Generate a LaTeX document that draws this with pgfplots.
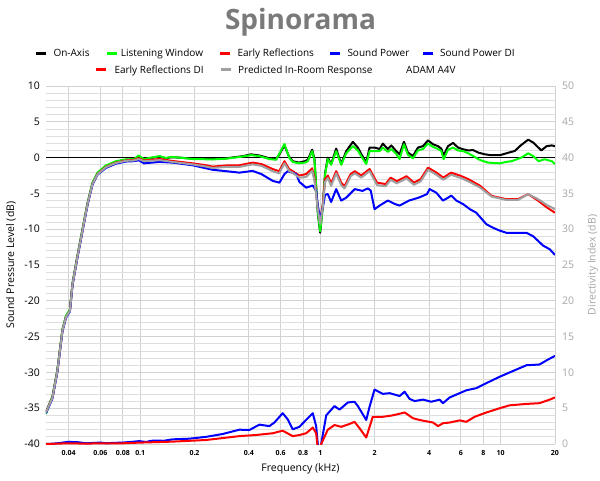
\documentclass[border=0pt]{standalone}
\usepackage{pgfplots}
\pgfplotsset{compat=1.18}
\usepackage{fontspec}
\setmainfont{Open Sans}

\definecolor{lwgreen}{HTML}{00FF00}
\definecolor{gridc}{HTML}{D2D2D2}
\definecolor{gridm}{HTML}{DEDEDE}
\definecolor{digray}{HTML}{A6A6A6}
\definecolor{pirgray}{HTML}{A0A0A0}
\definecolor{titlegray}{HTML}{7A7A7A}

\begin{document}
\begin{tikzpicture}
\useasboundingbox (0,0) rectangle (600pt,480pt);

\begin{axis}[
  at={(46pt,36pt)}, anchor=south west, scale only axis,
  width=509pt, height=358pt,
  xmode=log, xmin=0.03, xmax=20,
  ymin=-40, ymax=10,
  axis line style={draw=none},
  major tick length=0pt, minor tick length=0pt,
  /pgf/number format/assume math mode=true,
  every axis plot/.append style={line width=2pt, line join=round, no markers},
  xtick={0.04,0.06,0.08,0.1,0.2,0.4,0.6,0.8,1,2,4,6,8,10,20},
  xticklabels={0.04,0.06,0.08,0.1,0.2,0.4,0.6,0.8,1,2,4,6,8,10,20},
  xticklabel style={font=\fontsize{7}{8}\selectfont\bfseries, anchor=center, yshift=-9pt},
  ytick={-40,-35,...,10},
  yticklabel style={font=\fontsize{10.5}{12}\selectfont, anchor=east, inner sep=0pt, xshift=-6pt},
  minor y tick num=4,
  xmajorgrids, ymajorgrids, yminorgrids,
  major grid style={draw=gridc, line width=0.9pt},
  minor grid style={draw=gridm, line width=0.7pt},
  xlabel={Frequency (kHz)},
  xlabel style={font=\fontsize{10.5}{12}\selectfont, at={(axis description cs:0.5,-0.07)}, anchor=center},
  ylabel={Sound Pressure Level (dB)},
  ylabel style={font=\fontsize{10.5}{12}\selectfont, at={(axis description cs:-0.0688,0.5)}, anchor=center},
]
% 0 dB reference line
\addplot[black, line width=0.9pt] coordinates {(0.03,0) (20,0)};
% On-Axis
\addplot[black] coordinates {
(0.030,-35.5) (0.0326,-33.4) (0.0347,-29.7) (0.037,-24.1) (0.0387,-22.2) (0.0407,-21.3)
(0.0421,-17.6) (0.0448,-13.8) (0.0478,-10.1) (0.051,-6.4) (0.0543,-3.6) (0.0579,-2.2)
(0.0645,-1.2) (0.0733,-0.6) (0.0834,-0.3) (0.0926,-0.25) (0.098,0.1) (0.105,-0.3)
(0.112,-0.1) (0.128,0.15) (0.139,-0.1) (0.148,0.05) (0.165,0.0) (0.195,-0.15)
(0.252,-0.2) (0.300,-0.1) (0.370,0.2) (0.412,0.45) (0.458,0.3) (0.521,-0.1)
(0.567,-0.25) (0.59,0.4) (0.631,1.7) (0.67,0.1) (0.701,-0.5) (0.76,-0.7)
(0.82,-0.5) (0.85,-0.3) (0.899,1.1) (0.926,-0.2) (0.966,-7.7) (0.996,-10.5)
(1.03,-6.7) (1.06,-2.2) (1.098,0) (1.146,-0.9) (1.222,1.25) (1.303,-0.9)
(1.389,0.9) (1.512,2.2) (1.612,1.4) (1.683,0.5) (1.794,-0.7) (1.872,1.4)
(1.995,1.4) (2.128,1.2) (2.218,1.95) (2.364,1.2) (2.47,1.7) (2.633,0.9)
(2.747,0.45) (2.904,2.2) (3.055,0.7) (3.258,0.23) (3.474,1.4) (3.704,1.6)
(3.949,2.4) (4.21,1.86) (4.49,1.6) (4.68,1.25) (4.82,0.3) (5.10,1.6)
(5.44,2.05) (5.80,1.4) (6.19,1.16) (6.60,1.0) (7.03,1.05) (7.50,0.7)
(8.13,0.47) (8.86,0.33) (9.88,0.33) (10.74,0.6) (11.96,0.93) (13.0,1.77)
(14.2,2.5) (15.15,2.1) (16.8,1.0) (17.97,1.6) (19.2,1.7) (20,1.6)
};
% Listening Window
\addplot[lwgreen] coordinates {
(0.030,-35.8) (0.0326,-33.3) (0.0347,-29.6) (0.037,-24.0) (0.0387,-22.1) (0.0407,-21.2)
(0.0421,-17.5) (0.0448,-13.7) (0.0478,-10.0) (0.051,-6.3) (0.0543,-3.5) (0.0579,-2.1)
(0.0645,-1.1) (0.0733,-0.5) (0.0834,-0.25) (0.0926,-0.2) (0.098,0.3) (0.105,-0.25)
(0.112,-0.05) (0.128,0.2) (0.139,-0.05) (0.148,0.1) (0.165,0.0) (0.195,-0.2)
(0.252,-0.25) (0.300,-0.15) (0.370,0.15) (0.412,0.35) (0.458,0.2) (0.521,-0.2)
(0.567,-0.3) (0.59,0.5) (0.631,1.9) (0.67,0.0) (0.701,-0.6) (0.76,-0.8)
(0.82,-0.7) (0.85,-0.5) (0.899,0.9) (0.926,-0.4) (0.966,-7.5) (0.996,-10.3)
(1.03,-6.9) (1.06,-2.4) (1.098,-0.2) (1.146,-1.0) (1.222,0.9) (1.303,-1.0)
(1.389,0.6) (1.512,1.6) (1.612,1.0) (1.683,0.2) (1.794,-0.9) (1.872,0.9)
(1.995,0.9) (2.128,0.9) (2.218,1.4) (2.364,0.8) (2.47,1.2) (2.633,0.5)
(2.747,-0.2) (2.904,1.86) (3.055,0.4) (3.258,-0.1) (3.474,1.0) (3.704,1.2)
(3.949,1.95) (4.21,1.5) (4.49,1.2) (4.68,0.9) (4.82,-0.23) (5.10,1.1)
(5.44,1.4) (5.80,1.0) (6.19,0.9) (6.60,0.6) (7.03,0.23) (7.50,-0.2)
(7.8,-0.4) (8.5,-0.7) (9.88,-0.8) (10.74,-0.6) (11.5,-0.5) (13.0,0.0)
(14.2,0.6) (15.15,0.2) (16.2,-0.5) (17.5,-0.23) (19.2,-0.5) (20,-0.9)
};
% Early Reflections
\addplot[red] coordinates {
(0.030,-35.6) (0.0326,-33.5) (0.0347,-29.8) (0.037,-24.2) (0.0387,-22.3) (0.0407,-21.4)
(0.0421,-17.7) (0.0448,-13.9) (0.0478,-10.2) (0.051,-6.5) (0.0543,-3.7) (0.0579,-2.3)
(0.0645,-1.3) (0.0733,-0.7) (0.0834,-0.4) (0.0926,-0.3) (0.098,-0.1) (0.105,-0.4)
(0.128,-0.2) (0.151,-0.47) (0.195,-0.8) (0.232,-1.07) (0.252,-1.26) (0.300,-1.1)
(0.355,-1.07) (0.42,-0.7) (0.47,-0.9) (0.543,-1.6) (0.59,-1.9) (0.631,-0.5)
(0.67,-1.6) (0.701,-1.9) (0.764,-2.5) (0.833,-2.3) (0.899,-1.5) (0.926,-2.9)
(0.966,-6.9) (0.996,-8.8) (1.03,-6.6) (1.06,-3.0) (1.098,-2.5) (1.146,-3.6)
(1.222,-1.9) (1.303,-3.5) (1.36,-4.0) (1.47,-2.3) (1.55,-1.9) (1.683,-2.5)
(1.872,-1.6) (2.06,-3.5) (2.3,-3.7) (2.45,-2.8) (2.65,-3.3) (3.0,-2.6)
(3.3,-3.5) (3.6,-3.0) (3.949,-1.4) (4.4,-2.1) (4.8,-2.8) (5.3,-2.1)
(6.0,-2.55) (6.6,-3.0) (7.7,-3.95) (8.9,-5.35) (10.7,-5.8) (12.5,-5.8)
(14.2,-5.1) (16.1,-6.0) (18.0,-6.95) (20,-7.7)
};
% Sound Power
\addplot[blue] coordinates {
(0.030,-35.7) (0.0326,-33.6) (0.0347,-29.9) (0.037,-24.3) (0.0387,-22.4) (0.0407,-21.5)
(0.0421,-17.8) (0.0448,-14.0) (0.0478,-10.3) (0.051,-6.6) (0.0543,-3.8) (0.0579,-2.4)
(0.0645,-1.45) (0.0733,-0.85) (0.0834,-0.55) (0.0926,-0.5) (0.098,-0.37) (0.105,-0.8)
(0.128,-0.6) (0.151,-0.7) (0.195,-1.07) (0.252,-1.7) (0.300,-1.9) (0.355,-2.1)
(0.42,-1.86) (0.47,-2.3) (0.543,-3.25) (0.592,-3.5) (0.631,-2.3) (0.658,-1.9)
(0.733,-2.3) (0.764,-3.4) (0.833,-4.2) (0.906,-3.9) (0.946,-4.6) (0.966,-6.7)
(0.996,-8.6) (1.03,-7.0) (1.06,-5.2) (1.098,-5.1) (1.146,-6.2) (1.222,-4.4)
(1.303,-6.0) (1.389,-5.6) (1.55,-4.4) (1.71,-4.65) (1.83,-4.3) (1.90,-4.6)
(1.995,-7.2) (2.128,-6.7) (2.364,-6.0) (2.6,-6.5) (2.747,-6.7) (3.1,-6.0)
(3.5,-5.6) (3.9,-5.1) (4.03,-4.4) (4.39,-4.9) (4.78,-6.0) (5.10,-5.6)
(5.32,-5.3) (5.67,-6.0) (6.19,-6.5) (6.74,-7.2) (7.32,-7.7) (8.32,-9.3)
(9.06,-9.8) (9.88,-10.2) (10.74,-10.5) (11.7,-10.5) (13.9,-10.5) (15.15,-11.0)
(17.2,-12.3) (18.7,-12.8) (20,-13.6)
};
% Predicted In-Room Response
\addplot[pirgray] coordinates {
(0.030,-35.6) (0.0326,-33.5) (0.0347,-29.8) (0.037,-24.2) (0.0387,-22.3) (0.0407,-21.4)
(0.0421,-17.7) (0.0448,-13.9) (0.0478,-10.2) (0.051,-6.5) (0.0543,-3.7) (0.0579,-2.35)
(0.0645,-1.35) (0.0733,-0.75) (0.0834,-0.45) (0.0926,-0.4) (0.098,-0.2) (0.105,-0.5)
(0.128,-0.35) (0.151,-0.6) (0.195,-0.95) (0.232,-1.25) (0.252,-1.45) (0.300,-1.3)
(0.355,-1.3) (0.42,-0.95) (0.47,-1.15) (0.543,-1.9) (0.59,-2.2) (0.631,-0.8)
(0.67,-1.85) (0.701,-2.15) (0.764,-2.8) (0.833,-2.7) (0.899,-1.85) (0.926,-3.2)
(0.966,-7.2) (0.996,-9.3) (1.03,-6.9) (1.06,-3.4) (1.098,-2.85) (1.146,-3.95)
(1.222,-2.2) (1.303,-3.85) (1.36,-4.3) (1.47,-2.6) (1.55,-2.2) (1.683,-2.8)
(1.872,-1.9) (2.06,-3.85) (2.3,-4.0) (2.45,-3.1) (2.65,-3.6) (3.0,-2.9)
(3.3,-3.8) (3.6,-3.3) (3.949,-1.7) (4.4,-2.4) (4.8,-3.1) (5.3,-2.4)
(6.0,-2.85) (6.6,-3.3) (7.7,-4.2) (8.9,-5.45) (10.7,-5.9) (12.5,-5.9)
(14.2,-5.1) (16.1,-5.8) (18.0,-6.6) (20,-7.2)
};
\end{axis}

\begin{axis}[
  at={(46pt,36pt)}, anchor=south west, scale only axis,
  width=509pt, height=358pt,
  xmode=log, xmin=0.03, xmax=20,
  ymin=0, ymax=50,
  axis x line=none, axis y line*=right,
  axis line style={draw=none},
  major tick length=0pt, minor tick length=0pt,
  /pgf/number format/assume math mode=true,
  every axis plot/.append style={line width=2pt, line join=round, no markers},
  ytick={0,5,...,50},
  yticklabel style={font=\fontsize{10.5}{12}\selectfont, text=digray, anchor=west, inner sep=0pt, xshift=7pt},
  ylabel={Directivity Index (dB)},
  ylabel style={font=\fontsize{10.5}{12}\selectfont, text=digray, at={(axis description cs:1.0747,0.5)}, anchor=center},
]
% Sound Power DI
\addplot[blue] coordinates {
(0.030,0.0) (0.033,0.05) (0.036,0.15) (0.04,0.3) (0.045,0.25) (0.05,0.1)
(0.055,0.15) (0.06,0.2) (0.065,0.1) (0.07,0.15) (0.08,0.2) (0.09,0.3)
(0.0986,0.4) (0.108,0.28) (0.115,0.45) (0.122,0.47) (0.135,0.45) (0.151,0.65)
(0.187,0.74) (0.232,1.0) (0.287,1.4) (0.355,2.0) (0.403,1.95) (0.458,2.7)
(0.521,2.5) (0.555,3.0) (0.617,4.3) (0.658,3.45) (0.701,2.05) (0.764,2.4)
(0.85,3.6) (0.906,4.3) (0.946,2.5) (0.966,0) (0.985,-5) (1.009,0)
(1.076,4.0) (1.196,5.3) (1.275,4.8) (1.359,5.4) (1.418,5.8) (1.544,5.9)
(1.612,5.3) (1.794,3.35) (1.872,5.2) (1.995,7.6) (2.218,7.0) (2.42,7.1)
(2.747,6.7) (2.93,7.3) (3.12,6.3) (3.33,6.0) (3.70,6.2) (4.12,5.9)
(4.58,6.2) (4.78,5.7) (5.21,6.5) (5.92,7.1) (6.44,7.5) (7.32,7.8)
(8.32,8.5) (9.88,9.4) (11.7,10.2) (13.9,11.0) (16.4,11.1) (18.3,11.8) (20,12.3)
};
% Early Reflections DI
\addplot[red] coordinates {
(0.030,0.0) (0.035,0.05) (0.04,0.1) (0.05,0.05) (0.06,0.1) (0.07,0.08)
(0.08,0.1) (0.0986,0.19) (0.151,0.33) (0.232,0.56) (0.355,1.1) (0.44,1.26)
(0.543,1.5) (0.617,1.86) (0.701,1.1) (0.764,1.25) (0.833,1.5) (0.906,2.3)
(0.946,1.5) (0.96,0) (0.98,-5) (1.009,0) (1.098,2.0) (1.196,2.65)
(1.303,2.4) (1.449,2.8) (1.544,3.1) (1.647,2.2) (1.794,0.9) (1.95,3.8)
(2.218,3.8) (2.52,4.0) (2.93,4.4) (3.26,3.6) (3.55,3.35) (4.21,3.0)
(4.49,2.5) (4.78,2.9) (5.21,3.0) (5.92,3.3) (6.44,3.1) (7.17,3.8)
(8.32,4.4) (9.88,5.0) (11.2,5.4) (13.9,5.6) (16.4,5.7) (18.7,6.2) (20,6.5)
};
\end{axis}

% title
\node[anchor=base, inner sep=0pt, text=titlegray, font=\fontsize{28}{32}\selectfont\bfseries] at (300.5pt,450pt) {Spinorama};

% legend
\begin{scope}[every node/.style={anchor=base west, inner sep=0pt, font=\fontsize{10}{12}\selectfont}]
\draw[black, line width=3pt] (36pt,426.7pt) -- (46pt,426.7pt);
\node at (53.3pt,423pt) {On-Axis};
\draw[lwgreen, line width=3pt] (107pt,426.7pt) -- (117pt,426.7pt);
\node at (120.7pt,423pt) {Listening Window};
\draw[red, line width=3pt] (220pt,426.7pt) -- (230pt,426.7pt);
\node at (237.3pt,423pt) {Early Reflections};
\draw[blue, line width=3pt] (330pt,426.7pt) -- (340pt,426.7pt);
\node at (347.3pt,423pt) {Sound Power};
\draw[blue, line width=3pt] (423pt,426.7pt) -- (433pt,426.7pt);
\node at (440pt,423pt) {Sound Power DI};
\draw[red, line width=3pt] (96pt,410.7pt) -- (106pt,410.7pt);
\node at (114.3pt,406.7pt) {Early Reflections DI};
\draw[pirgray, line width=3pt] (220.7pt,410.7pt) -- (230.7pt,410.7pt);
\node at (238pt,406.7pt) {Predicted In-Room Response};
\node at (406pt,406.7pt) {ADAM A4V};
\end{scope}
\end{tikzpicture}
\end{document}
